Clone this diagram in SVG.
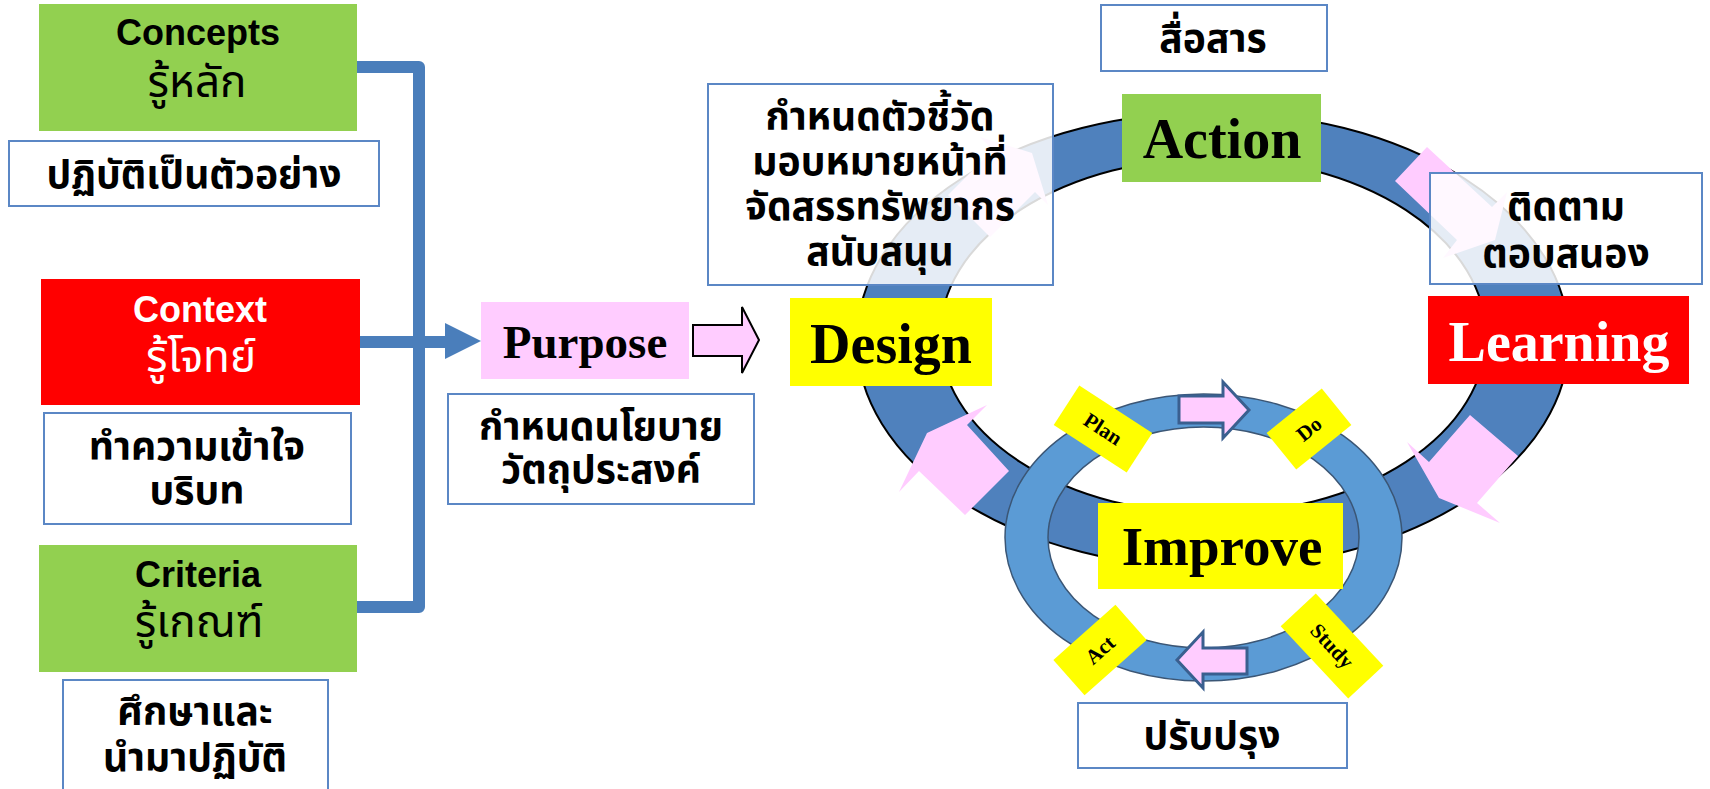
<svg xmlns="http://www.w3.org/2000/svg" width="1710" height="789" viewBox="0 0 1710 789">
<defs>
<style>
.lat{font-family:"Liberation Sans",Arial,sans-serif;font-weight:bold;font-size:36px;text-anchor:middle}
.thr{font-family:Tahoma,"Noto Sans Thai","Noto Sans","DejaVu Sans",sans-serif;font-size:44px;text-anchor:middle}
.thb{font-family:Tahoma,"Noto Sans Thai","Noto Sans","DejaVu Sans",sans-serif;font-weight:bold;font-size:39px;text-anchor:middle;fill:#000}
.tnr{font-family:"Liberation Serif","Times New Roman",serif;font-weight:bold;text-anchor:middle}
.box{fill:#fff;stroke:#5B87C5;stroke-width:2}
.glass{fill:#fff;fill-opacity:0.85;stroke:#5B87C5;stroke-width:2}
.green{fill:#92D050}
.red{fill:#FF0000}
.yellow{fill:#FFFF00}
.pink{fill:#FFCCFF}
.conn{fill:none;stroke:#4A7EBB;stroke-width:12;stroke-linejoin:round}
.sarrow{fill:#FFCCFF;stroke:#3A5F8F;stroke-width:3}
.lbl{font-family:"Liberation Serif","Times New Roman",serif;font-weight:bold;font-size:21px;text-anchor:middle}
</style>
</defs>
<rect width="1710" height="789" fill="#fff"/>

<g id="connectors">
<path class="conn" d="M357,67 H419 V607 H357"/>
<path class="conn" d="M360,342 H447"/>
<polygon points="445,323 481,341 445,359" fill="#4A7EBB"/>
<polygon points="693,325 742,325 742,307 759,340 742,373 742,356 693,356" fill="#FFCCFF" stroke="#000" stroke-width="2"/>
</g>

<g id="concepts">
<rect class="green" x="39" y="4" width="318" height="127"/>
<text class="lat" x="198" y="45">Concepts</text>
<text class="thr" x="197" y="97">รู้หลัก</text>
</g>
<g id="concepts-note">
<rect class="box" x="9" y="141" width="370" height="65"/>
<text class="thb" x="194" y="188">ปฏิบัติเป็นตัวอย่าง</text>
</g>
<g id="context">
<rect class="red" x="41" y="279" width="319" height="126"/>
<text class="lat" x="200" y="322" fill="#fff">Context</text>
<text class="thr" x="201" y="372" fill="#fff">รู้โจทย์</text>
</g>
<g id="context-note">
<rect class="box" x="44" y="413" width="307" height="111"/>
<text class="thb"><tspan x="197" y="460">ทำความเข้าใจ</tspan><tspan x="197" y="504">บริบท</tspan></text>
</g>
<g id="criteria">
<rect class="green" x="39" y="545" width="318" height="127"/>
<text class="lat" x="198" y="587">Criteria</text>
<text class="thr" x="199" y="637">รู้เกณฑ์</text>
</g>
<g id="criteria-note">
<rect class="box" x="63" y="680" width="265" height="120"/>
<text class="thb"><tspan x="195" y="725">ศึกษาและ</tspan><tspan x="195" y="771">นำมาปฏิบัติ</tspan></text>
</g>

<g id="purpose">
<rect class="pink" x="481" y="302" width="208" height="77"/>
<text class="tnr" x="585" y="358" font-size="47">Purpose</text>
</g>
<g id="purpose-note">
<rect class="box" x="448" y="394" width="306" height="110"/>
<text class="thb"><tspan x="601" y="440">กำหนดนโยบาย</tspan><tspan x="601" y="483">วัตถุประสงค์</tspan></text>
</g>

<g id="big-cycle">
<path d="M857,340 a356,228 0 1,0 712,0 a356,228 0 1,0 -712,0 Z M940,336 a273,178 0 1,0 546,0 a273,178 0 1,0 -546,0 Z" fill="#4F81BD" fill-rule="evenodd" stroke="#000" stroke-width="2"/>
<polygon class="pink" points="899,492 927,433 987,405 967,425 1009,471 965,515 919,471"/>
<polygon class="pink" points="980,137 1032,153 1048,205 1035,192 990,237 948,195 993,150"/>
<polygon class="pink" points="1427,147 1492,207 1507,192 1495,240 1443,258 1457,240 1395,181"/>
<polygon class="pink" points="1407,442 1439,498 1500,523 1477,503 1518,456 1470,415 1429,462"/>
</g>

<g id="small-cycle">
<path d="M1005,537.5 a198.5,143.5 0 1,0 397,0 a198.5,143.5 0 1,0 -397,0 Z M1048,537.5 a155.5,110.5 0 1,0 311,0 a155.5,110.5 0 1,0 -311,0 Z" fill="#5B9BD5" fill-rule="evenodd" stroke="#3B5675" stroke-width="1.5"/>
<polygon class="sarrow" points="1179,396 1223,396 1223,382 1249,410 1223,438 1223,423 1179,423"/>
<polygon class="sarrow" points="1247,648 1203,648 1203,632 1177,660 1203,688 1203,674 1247,674"/>
</g>

<g id="plan" transform="translate(1103,429) rotate(33)">
<rect class="yellow" x="-43.5" y="-23.5" width="87" height="47"/>
<text class="lbl" x="0" y="7">Plan</text>
</g>
<g id="do" transform="translate(1309,429) rotate(-39)">
<rect class="yellow" x="-35.5" y="-23.5" width="71" height="47"/>
<text class="lbl" x="0" y="7">Do</text>
</g>
<g id="study" transform="translate(1332,646) rotate(47)">
<rect class="yellow" x="-49.5" y="-24" width="99" height="48"/>
<text class="lbl" x="0" y="7">Study</text>
</g>
<g id="act" transform="translate(1100,650) rotate(-41.6)">
<rect class="yellow" x="-41.5" y="-23.5" width="83" height="47"/>
<text class="lbl" x="0" y="7">Act</text>
</g>

<g id="design">
<rect class="yellow" x="790" y="298" width="202" height="88"/>
<text class="tnr" x="891" y="363" font-size="56">Design</text>
</g>
<g id="action">
<rect class="green" x="1122" y="94" width="199" height="88"/>
<text class="tnr" x="1222" y="158" font-size="56">Action</text>
</g>
<g id="learning">
<rect class="red" x="1428" y="296" width="261" height="88"/>
<text class="tnr" x="1559" y="361" font-size="56" fill="#fff">Learning</text>
</g>
<g id="improve">
<rect class="yellow" x="1098" y="503" width="245" height="86"/>
<text class="tnr" x="1222" y="565" font-size="55">Improve</text>
</g>

<g id="design-note">
<rect class="glass" x="708" y="84" width="345" height="201"/>
<text class="thb"><tspan x="880" y="130">กำหนดตัวชี้วัด</tspan><tspan x="880" y="175">มอบหมายหน้าที่</tspan><tspan x="880" y="220">จัดสรรทรัพยากร</tspan><tspan x="880" y="265">สนับสนุน</tspan></text>
</g>
<g id="action-note">
<rect class="box" x="1101" y="5" width="226" height="66"/>
<text class="thb" x="1213" y="52">สื่อสาร</text>
</g>
<g id="learning-note">
<rect class="glass" x="1430" y="173" width="272" height="111"/>
<text class="thb"><tspan x="1566" y="220">ติดตาม</tspan><tspan x="1566" y="267">ตอบสนอง</tspan></text>
</g>
<g id="improve-note">
<rect class="box" x="1078" y="703" width="269" height="65"/>
<text class="thb" x="1212" y="749">ปรับปรุง</text>
</g>
</svg>
